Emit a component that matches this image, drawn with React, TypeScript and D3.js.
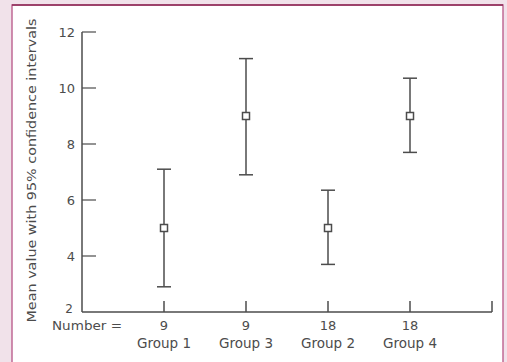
import { useEffect, useRef } from 'react';
import * as d3 from 'd3';

const groups = ['Group 1', 'Group 3', 'Group 2', 'Group 4'];
const counts = ['9', '9', '18', '18'];
const means = [5, 9, 5, 9];
const lower = [2.9, 6.9, 3.7, 7.7];
const upper = [7.1, 11.05, 6.35, 10.35];
const yTicks = [2, 4, 6, 8, 10, 12];

const W = 507;
const H = 362;
const font = '"DejaVu Sans", Lato, sans-serif';
const ink = '#4c4c4c';

export default function App() {
  const svgRef = useRef<SVGSVGElement>(null);

  useEffect(() => {
    const svg = d3.select(svgRef.current);
    svg.selectAll('*').remove();

    // page background and framed panel
    svg.append('rect').attr('width', W).attr('height', H).attr('fill', '#f1e2ea');
    svg.append('rect').attr('x', 12).attr('y', 5).attr('width', 491).attr('height', H)
      .attr('fill', '#ffffff').attr('stroke', '#c06a95').attr('stroke-width', 1.5);
    svg.append('line').attr('x1', 12).attr('x2', 503).attr('y1', 5).attr('y2', 5)
      .attr('stroke', '#8c2a55').attr('stroke-width', 1.5);

    const x = d3.scaleLinear().domain([0, 5]).range([82, 492]);
    const y = d3.scaleLinear().domain([2, 12]).range([312, 32]);

    const g = svg.append('g');

    // axes
    g.append('line').attr('x1', x(0)).attr('x2', x(0)).attr('y1', y(12)).attr('y2', y(2))
      .attr('stroke', ink).attr('stroke-width', 1.5);
    g.append('line').attr('x1', x(0)).attr('x2', x(5)).attr('y1', y(2)).attr('y2', y(2))
      .attr('stroke', ink).attr('stroke-width', 1.5);
    g.append('line').attr('x1', x(5)).attr('x2', x(5)).attr('y1', y(2)).attr('y2', y(2) - 11)
      .attr('stroke', ink).attr('stroke-width', 1.5);

    // y ticks, pointing inward
    g.selectAll('.yt').data(yTicks.filter(d => d > 2)).enter().append('line')
      .attr('x1', x(0)).attr('x2', x(0) + 14)
      .attr('y1', d => y(d)).attr('y2', d => y(d))
      .attr('stroke', ink).attr('stroke-width', 1.2);
    g.selectAll('.yl').data(yTicks).enter().append('text')
      .attr('x', d => (d === 2 ? 73 : 75)).attr('y', d => y(d) + (d === 2 ? -3 : 0))
      .attr('text-anchor', 'end').attr('dominant-baseline', 'central')
      .attr('font-family', font).attr('font-size', d => (d === 2 ? 12 : 13)).attr('fill', ink)
      .text(d => d);

    // y title
    g.append('text')
      .attr('transform', `translate(31,${(18 + 323) / 2}) rotate(-90)`)
      .attr('text-anchor', 'middle').attr('dominant-baseline', 'central')
      .attr('font-family', font).attr('font-size', 13).attr('fill', ink)
      .attr('textLength', 304).attr('lengthAdjust', 'spacingAndGlyphs')
      .text('Mean value with 95% confidence intervals');

    // x ticks, pointing upward
    g.selectAll('.xt').data(groups).enter().append('line')
      .attr('x1', (_, i) => x(i + 1)).attr('x2', (_, i) => x(i + 1))
      .attr('y1', y(2)).attr('y2', y(2) - 11)
      .attr('stroke', ink).attr('stroke-width', 1.5);

    // bottom labels
    g.append('text').attr('x', 52).attr('y', 325)
      .attr('dominant-baseline', 'central')
      .attr('font-family', font).attr('font-size', 13).attr('fill', ink)
      .attr('textLength', 70).attr('lengthAdjust', 'spacingAndGlyphs')
      .text('Number =');
    g.selectAll('.cnt').data(counts).enter().append('text')
      .attr('x', (_, i) => x(i + 1)).attr('y', 325)
      .attr('text-anchor', 'middle').attr('dominant-baseline', 'central')
      .attr('font-family', font).attr('font-size', 13).attr('fill', ink)
      .text(d => d);
    g.selectAll('.grp').data(groups).enter().append('text')
      .attr('x', (_, i) => x(i + 1)).attr('y', 343)
      .attr('text-anchor', 'middle').attr('dominant-baseline', 'central')
      .attr('font-family', font).attr('font-size', 13.5).attr('fill', ink)
      .text(d => d);

    // error bars
    const bars = g.selectAll('.bar').data(means).enter().append('g');
    bars.append('line')
      .attr('x1', (_, i) => x(i + 1)).attr('x2', (_, i) => x(i + 1))
      .attr('y1', (_, i) => y(lower[i])).attr('y2', (_, i) => y(upper[i]))
      .attr('stroke', ink).attr('stroke-width', 1.5);
    bars.append('line')
      .attr('x1', (_, i) => x(i + 1) - 7).attr('x2', (_, i) => x(i + 1) + 7)
      .attr('y1', (_, i) => y(upper[i])).attr('y2', (_, i) => y(upper[i]))
      .attr('stroke', ink).attr('stroke-width', 1.5);
    bars.append('line')
      .attr('x1', (_, i) => x(i + 1) - 7).attr('x2', (_, i) => x(i + 1) + 7)
      .attr('y1', (_, i) => y(lower[i])).attr('y2', (_, i) => y(lower[i]))
      .attr('stroke', ink).attr('stroke-width', 1.5);
    bars.append('rect')
      .attr('x', (_, i) => x(i + 1) - 3.5).attr('y', d => y(d) - 3.5)
      .attr('width', 7).attr('height', 7)
      .attr('fill', '#ffffff').attr('stroke', ink).attr('stroke-width', 1.5);
  }, []);

  return (
    <div style={{ position: 'fixed', left: 0, top: 0 }}>
      <svg ref={svgRef} width={W} height={H} style={{ display: 'block' }} />
    </div>
  );
}
